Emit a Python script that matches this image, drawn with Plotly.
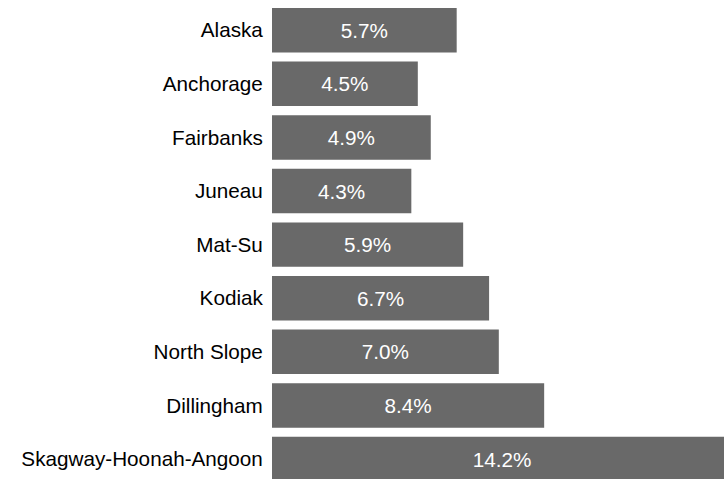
import plotly.graph_objects as go

regions = ["Alaska", "Anchorage", "Fairbanks", "Juneau", "Mat-Su", "Kodiak",
           "North Slope", "Dillingham", "Skagway-Hoonah-Angoon"]
rates = [5.7, 4.5, 4.9, 4.3, 5.9, 6.7, 7.0, 8.4, 14.2]
labels = [f"{v:.1f}%" for v in rates]

fig = go.Figure(go.Bar(
    x=rates, y=regions, orientation="h",
    marker=dict(color="#696969", line=dict(width=0)),
    text=labels, textposition="inside", insidetextanchor="middle",
    textfont=dict(color="white", size=20.7, family="Liberation Sans, Arial, sans-serif"),
    textangle=0,
))

fig.update_layout(
    width=724, height=479,
    margin=dict(l=272, r=0, t=0, b=0),
    paper_bgcolor="white", plot_bgcolor="white",
    bargap=0.17,
    showlegend=False,
    font=dict(family="Liberation Sans, Arial, sans-serif", size=20.7, color="#000000"),
)
fig.update_xaxes(range=[0, 13.95], visible=False, showgrid=False, zeroline=False, fixedrange=True)
fig.update_yaxes(type="category", categoryorder="array", categoryarray=regions,
                 range=[8.373, -0.564], showgrid=False, zeroline=False, showline=False,
                 ticks="outside", ticklen=4, tickcolor="rgba(0,0,0,0)",
                 tickfont=dict(size=20.7, color="#000000"))

fig.write_html(
    "out.html",
    config={"displayModeBar": False},
    post_script="document.body.style.margin='0';document.body.style.overflow='hidden';",
)
